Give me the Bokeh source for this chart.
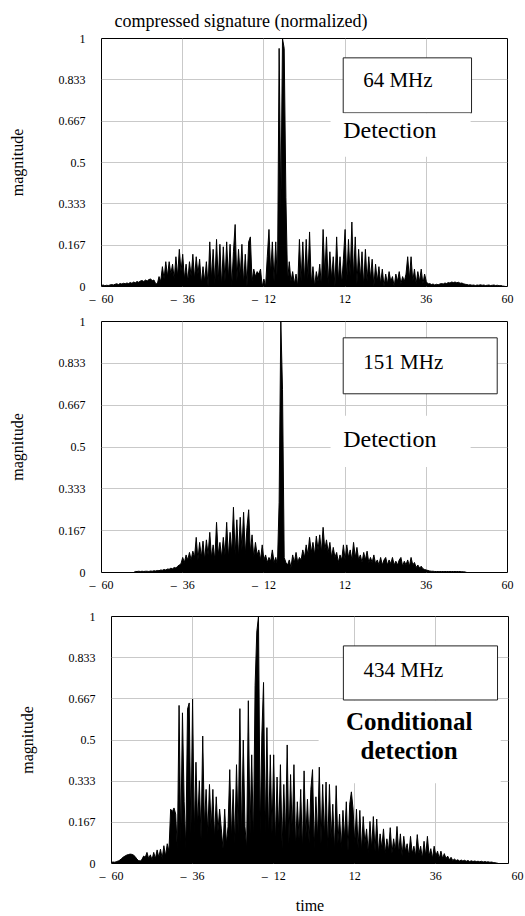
import numpy as np
from bokeh.plotting import figure
from bokeh.models import (Label, BoxAnnotation, FixedTicker, Range1d,
                          ColumnDataSource, NumeralTickFormatter)
from bokeh.embed import file_html
from bokeh.resources import INLINE

SERIF = "Liberation Serif"

# sampling of the time axis
T_START = -60.0
T_STEP = 0.5

X_TICKS = [-60, -36, -12, 12, 36, 60]
X_TICK_LABELS = ["\u2013\u200260", "\u2013\u200236", "\u2013\u200212", "12", "36", "60"]
Y_TICKS = [0, 0.167, 0.333, 0.5, 0.667, 0.833, 1]
Y_TICK_LABELS = ["0", "0.167", "0.333", "0.5", "0.667", "0.833", "1"]

TITLE = "compressed signature (normalized)"
Y_LABEL = "magnitude"
X_LABEL = "time"
BANDS = ["64 MHz", "151 MHz", "434 MHz"]
VERDICTS = ["Detection", "Detection", "Conditional\ndetection"]

# magnitude samples, t = -60 ... every 0.5
MAG_64 = [
    0.004, 0.006, 0.003, 0.005, 0.004, 0.006, 0.008, 0.006, 0.009, 0.011, 0.008, 0.012,
    0.010, 0.013, 0.011, 0.014, 0.012, 0.016, 0.013, 0.018, 0.015, 0.020, 0.017, 0.022,
    0.024, 0.020, 0.026, 0.022, 0.028, 0.030, 0.024, 0.026, 0.012, 0.010, 0.040, 0.020,
    0.080, 0.030, 0.100, 0.040, 0.100, 0.050, 0.090, 0.030, 0.120, 0.040, 0.150, 0.060,
    0.130, 0.030, 0.090, 0.020, 0.100, 0.040, 0.130, 0.030, 0.120, 0.050, 0.110, 0.010,
    0.080, 0.020, 0.100, 0.000, 0.180, 0.030, 0.150, 0.010, 0.190, 0.020, 0.170, 0.000,
    0.160, 0.020, 0.180, 0.030, 0.170, 0.000, 0.140, 0.250, 0.020, 0.150, 0.040, 0.170,
    0.010, 0.130, 0.000, 0.180, 0.200, 0.020, 0.070, 0.040, 0.060, 0.050, 0.070, 0.000,
    0.030, 0.000, 0.120, 0.230, 0.050, 0.180, 0.020, 0.180, 0.000, 0.960, 0.300, 1.000,
    0.960, 0.360, 0.020, 0.100, 0.020, 0.060, 0.010, 0.050, 0.000, 0.190, 0.020, 0.180,
    0.020, 0.190, 0.030, 0.220, 0.010, 0.080, 0.000, 0.060, 0.020, 0.090, 0.000, 0.230,
    0.040, 0.200, 0.010, 0.140, 0.030, 0.120, 0.000, 0.200, 0.020, 0.120, 0.010, 0.110,
    0.230, 0.020, 0.190, 0.040, 0.260, 0.030, 0.200, 0.010, 0.150, 0.030, 0.140, 0.000,
    0.150, 0.020, 0.120, 0.030, 0.110, 0.000, 0.090, 0.020, 0.080, 0.010, 0.070, 0.000,
    0.050, 0.010, 0.060, 0.020, 0.040, 0.000, 0.050, 0.020, 0.060, 0.010, 0.040, 0.020,
    0.050, 0.120, 0.030, 0.120, 0.020, 0.070, 0.010, 0.060, 0.020, 0.070, 0.010, 0.050,
    0.020, 0.010, 0.012, 0.008, 0.010, 0.006, 0.009, 0.007, 0.010, 0.012, 0.010, 0.014,
    0.012, 0.016, 0.014, 0.018, 0.016, 0.018, 0.015, 0.017, 0.013, 0.014, 0.011, 0.009,
    0.008, 0.006, 0.007, 0.005, 0.006, 0.004, 0.006, 0.005, 0.007, 0.005, 0.006, 0.004,
    0.005, 0.006, 0.004, 0.005, 0.006, 0.004, 0.005, 0.003, 0.004, 0.002, 0.001, 0.000,
    0.000,
]

MAG_151 = [
    0.000, 0.000, 0.000, 0.000, 0.000, 0.000, 0.000, 0.000, 0.000, 0.000, 0.000, 0.000,
    0.000, 0.000, 0.000, 0.000, 0.000, 0.000, 0.000, 0.000, 0.004, 0.004, 0.005, 0.004,
    0.005, 0.004, 0.005, 0.005, 0.004, 0.006, 0.005, 0.007, 0.006, 0.008, 0.007, 0.010,
    0.009, 0.012, 0.010, 0.014, 0.013, 0.017, 0.015, 0.020, 0.018, 0.025, 0.030, 0.035,
    0.060, 0.040, 0.070, 0.050, 0.080, 0.050, 0.085, 0.060, 0.140, 0.050, 0.120, 0.060,
    0.125, 0.050, 0.130, 0.070, 0.160, 0.060, 0.110, 0.050, 0.200, 0.070, 0.120, 0.060,
    0.140, 0.070, 0.200, 0.060, 0.160, 0.080, 0.260, 0.070, 0.210, 0.060, 0.220, 0.090,
    0.240, 0.070, 0.180, 0.250, 0.080, 0.150, 0.060, 0.120, 0.070, 0.090, 0.050, 0.110,
    0.050, 0.070, 0.040, 0.060, 0.045, 0.090, 0.040, 0.060, 0.030, 0.280, 1.000, 0.730,
    0.060, 0.040, 0.030, 0.050, 0.020, 0.070, 0.040, 0.080, 0.040, 0.060, 0.050, 0.090,
    0.060, 0.110, 0.070, 0.140, 0.080, 0.120, 0.070, 0.145, 0.090, 0.150, 0.080, 0.180,
    0.090, 0.130, 0.080, 0.120, 0.060, 0.100, 0.060, 0.080, 0.040, 0.070, 0.050, 0.110,
    0.050, 0.110, 0.060, 0.090, 0.050, 0.120, 0.060, 0.100, 0.050, 0.070, 0.040, 0.080,
    0.050, 0.085, 0.040, 0.060, 0.040, 0.070, 0.035, 0.050, 0.030, 0.060, 0.030, 0.050,
    0.060, 0.030, 0.050, 0.035, 0.060, 0.030, 0.045, 0.030, 0.050, 0.060, 0.025, 0.045,
    0.030, 0.050, 0.025, 0.060, 0.030, 0.040, 0.020, 0.030, 0.018, 0.025, 0.015, 0.012,
    0.010, 0.008, 0.006, 0.005, 0.005, 0.004, 0.004, 0.004, 0.004, 0.004, 0.004, 0.004,
    0.004, 0.004, 0.004, 0.004, 0.004, 0.004, 0.004, 0.004, 0.004, 0.003, 0.003, 0.002,
    0.000, 0.000, 0.000, 0.000, 0.000, 0.000, 0.000, 0.000, 0.000, 0.000, 0.000, 0.000,
    0.000, 0.000, 0.000, 0.000, 0.000, 0.000, 0.000, 0.000, 0.000, 0.000, 0.000, 0.000,
    0.000,
]

MAG_434 = [
    0.005, 0.006, 0.005, 0.008, 0.010, 0.014, 0.020, 0.026, 0.030, 0.034, 0.036, 0.038,
    0.037, 0.034, 0.028, 0.018, 0.012, 0.010, 0.016, 0.030, 0.025, 0.045, 0.020, 0.035,
    0.015, 0.045, 0.020, 0.055, 0.025, 0.058, 0.020, 0.072, 0.030, 0.080, 0.050, 0.220,
    0.210, 0.225, 0.200, 0.050, 0.640, 0.080, 0.610, 0.250, 0.060, 0.625, 0.650, 0.120,
    0.666, 0.120, 0.410, 0.150, 0.335, 0.100, 0.516, 0.150, 0.300, 0.120, 0.320, 0.140,
    0.300, 0.100, 0.270, 0.130, 0.220, 0.140, 0.060, 0.220, 0.080, 0.150, 0.380, 0.100,
    0.300, 0.080, 0.400, 0.120, 0.627, 0.100, 0.500, 0.150, 0.060, 0.659, 0.120, 0.440,
    0.080, 0.720, 0.937, 1.000, 0.120, 0.520, 0.733, 0.120, 0.550, 0.100, 0.440, 0.120,
    0.440, 0.080, 0.350, 0.120, 0.400, 0.060, 0.320, 0.100, 0.480, 0.080, 0.360, 0.120,
    0.400, 0.060, 0.250, 0.100, 0.300, 0.050, 0.375, 0.100, 0.260, 0.080, 0.300, 0.380,
    0.060, 0.270, 0.100, 0.390, 0.080, 0.320, 0.100, 0.330, 0.060, 0.320, 0.100, 0.240,
    0.050, 0.315, 0.080, 0.200, 0.060, 0.215, 0.100, 0.250, 0.050, 0.240, 0.290, 0.220,
    0.080, 0.220, 0.060, 0.215, 0.050, 0.190, 0.080, 0.140, 0.040, 0.170, 0.060, 0.190,
    0.050, 0.180, 0.040, 0.120, 0.060, 0.140, 0.040, 0.100, 0.050, 0.145, 0.040, 0.100,
    0.050, 0.150, 0.040, 0.120, 0.030, 0.110, 0.050, 0.080, 0.030, 0.110, 0.040, 0.070,
    0.030, 0.117, 0.040, 0.070, 0.020, 0.090, 0.030, 0.110, 0.030, 0.060, 0.020, 0.070,
    0.030, 0.050, 0.020, 0.050, 0.020, 0.040, 0.020, 0.030, 0.015, 0.025, 0.012, 0.018,
    0.012, 0.015, 0.010, 0.014, 0.010, 0.013, 0.009, 0.012, 0.008, 0.011, 0.008, 0.010,
    0.008, 0.009, 0.007, 0.009, 0.006, 0.008, 0.006, 0.007, 0.005, 0.006, 0.004, 0.003,
    0.002, 0.000, 0.000, 0.000, 0.000, 0.000, 0.000, 0.000,
]


def overrides(ticks, labels):
    d = {}
    for k, v in zip(ticks, labels):
        d[k] = v
        d[str(k)] = v
    return d


def make_panel(values, x_end, x_ticks, x_labels, width, height, left, right, top, bottom,
               title=None):
    t = [T_START + T_STEP * i for i in range(len(values))]
    src = ColumnDataSource(dict(t=t, m=values))
    p = figure(width=width, height=height, title=title,
               x_range=Range1d(-60, x_end), y_range=Range1d(0, 1),
               output_backend="svg", toolbar_location=None,
               min_border_left=left, min_border_right=right,
               min_border_top=top, min_border_bottom=bottom)
    p.background_fill_color = "white"
    p.border_fill_color = "white"
    p.outline_line_color = "black"
    p.outline_line_width = 1

    p.xaxis.ticker = FixedTicker(ticks=x_ticks)
    p.xaxis.major_label_overrides = overrides(x_ticks, x_labels)
    p.yaxis.ticker = FixedTicker(ticks=Y_TICKS)
    p.yaxis.formatter = NumeralTickFormatter(format="0.[000]")
    p.yaxis.major_label_overrides = overrides(Y_TICKS, Y_TICK_LABELS)
    for ax in (p.xaxis[0], p.yaxis[0]):
        ax.axis_line_color = None
        ax.major_tick_line_color = None
        ax.minor_tick_line_color = None
        ax.major_tick_out = 0
        ax.major_tick_in = 0
        ax.major_label_text_font = SERIF
        ax.major_label_text_font_size = "12px"
        ax.major_label_text_color = "black"
        ax.axis_label_text_font = SERIF
        ax.axis_label_text_font_size = "16px"
        ax.axis_label_text_font_style = "normal"
        ax.axis_label_text_color = "black"
    p.xaxis.major_label_standoff = 5
    p.yaxis.major_label_standoff = 16
    p.yaxis.axis_label = Y_LABEL
    p.yaxis.axis_label_standoff = 30

    p.xgrid.ticker = FixedTicker(ticks=X_TICKS)
    p.ygrid.ticker = FixedTicker(ticks=Y_TICKS)
    p.grid.grid_line_color = "#c9c9c9"
    p.grid.grid_line_width = 1

    p.varea(x="t", y1=0, y2="m", source=src, fill_color="black")
    p.line("t", "m", source=src, line_color="black", line_width=1)
    return p


def white_box(p, l, r, b, t, border=False):
    box = BoxAnnotation(left=l, right=r, bottom=b, top=t,
                        fill_color="white", fill_alpha=1.0,
                        line_color="#222222" if border else None,
                        line_alpha=1.0, line_width=1, level="underlay")
    p.add_layout(box)


def text(p, x, y, s, size, align="center", bold=False):
    lab = Label(x=x, y=y, text=s, text_font=SERIF, text_font_size=size,
                text_align=align, text_baseline="middle",
                text_color="black", text_font_style="bold" if bold else "normal")
    p.add_layout(lab)


# ---- panel 1 : 64 MHz
p1 = make_panel(MAG_64, 60, X_TICKS, X_TICK_LABELS, 525, 308, 101, 18, 38, 20, title=TITLE)
p1.title.text_font = SERIF
p1.title.text_font_size = "18px"
p1.title.text_font_style = "normal"
p1.title.text_color = "black"
p1.title.align = "left"
p1.title.offset = 13
p1.title.standoff = 15
white_box(p1, 11.44, 49.37, 0.700, 0.922, border=True)
white_box(p1, 7.7, 49.1, 0.523, 0.699)
text(p1, 27.6, 0.831, BANDS[0], "21px")
text(p1, 11.44, 0.631, VERDICTS[0], "24px", align="left")

# ---- panel 2 : 151 MHz
p2 = make_panel(MAG_151, 60, X_TICKS, X_TICK_LABELS, 525, 292, 101, 18, 13, 28)
white_box(p2, 11.44, 56.96, 0.712, 0.935, border=True)
white_box(p2, 7.7, 49.1, 0.42, 0.625)
text(p2, 29.2, 0.84, BANDS[1], "21px")
text(p2, 11.44, 0.533, VERDICTS[1], "24px", align="left")

# ---- panel 3 : 434 MHz  (frame stops at t = 57.5; the "60" label sits just past it)
X_END_3 = 57.5
x_ticks_3 = X_TICKS[:-1] + [X_END_3]
x_labels_3 = X_TICK_LABELS[:-1] + ["\u2003\u2002" + X_TICK_LABELS[-1]]
p3 = make_panel(MAG_434, X_END_3, x_ticks_3, x_labels_3, 525, 316, 111, 17, 16, 48)
p3.xaxis.axis_label = X_LABEL
p3.xaxis.axis_label_standoff = 11
white_box(p3, 1.3, 55.2, 0.325, 0.661)
white_box(p3, 8.63, 54.25, 0.662, 0.881, border=True)
text(p3, 26.4, 0.785, BANDS[2], "21px")
line1, line2 = VERDICTS[2].split("\n")
text(p3, 28.1, 0.573, line1, "25px", bold=True)
text(p3, 28.1, 0.456, line2, "25px", bold=True)

# three separate roots stacked on the page (keeps each panel's own left border)
open("out.html", "w").write(file_html([p1, p2, p3], INLINE))
